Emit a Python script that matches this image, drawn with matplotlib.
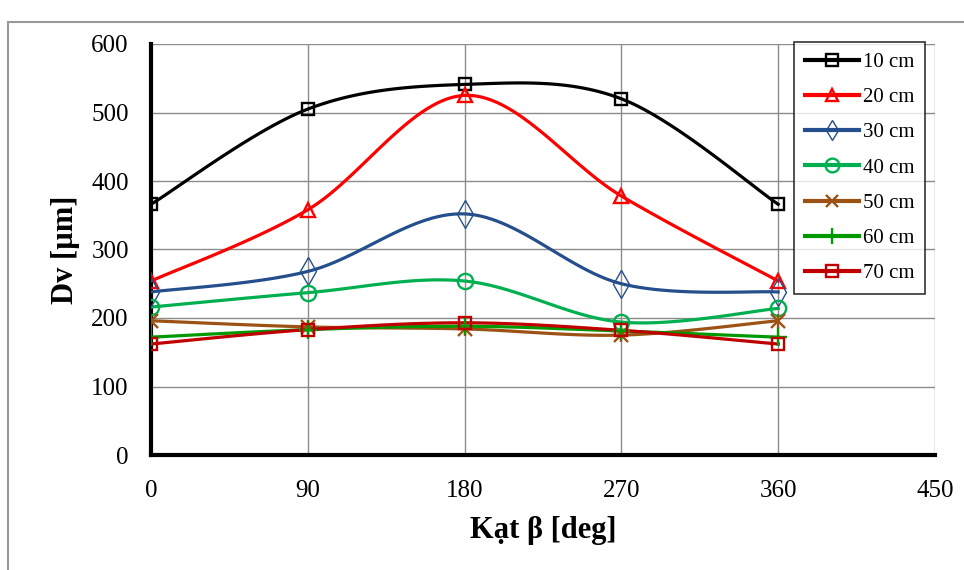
import numpy as np
import matplotlib
matplotlib.use("Agg")
import matplotlib.pyplot as plt
from matplotlib.lines import Line2D

# ---- data ----
angles = [0, 90, 180, 270, 360]
labels = ["10 cm", "20 cm", "30 cm", "40 cm", "50 cm", "60 cm", "70 cm"]
dv_10 = [366, 505, 541, 520, 366]
dv_20 = [254, 358, 525, 378, 254]
dv_30 = [238, 268, 352, 250, 238]
dv_40 = [216, 237, 254, 194, 214]
dv_50 = [196, 187, 184, 175, 196]
dv_60 = [172, 183, 188, 181, 172]
dv_70 = [162, 183, 193, 182, 162]
x_ticks = [0, 90, 180, 270, 360, 450]
y_ticks = [0, 100, 200, 300, 400, 500, 600]

series = [dv_10, dv_20, dv_30, dv_40, dv_50, dv_60, dv_70]
colors = ["#000000", "#FF0000", "#254E8C", "#00B050", "#9C5214", "#009A00", "#C00000"]
markers = ["s", "^", "d", "o", "x", "+", "s"]
msizes = [9, 10, 14, 11, 10, 13, 9]


def smooth(xs, ys, n=30):
    # excel-style smoothed line (catmull-rom through the points)
    xs = np.asarray(xs, float)
    ys = np.asarray(ys, float)
    px = np.concatenate([[xs[0]], xs, [xs[-1]]])
    py = np.concatenate([[ys[0]], ys, [ys[-1]]])
    ox, oy = [], []
    t = np.linspace(0, 1, n)
    for i in range(1, len(px) - 2):
        for arr, out in ((px, ox), (py, oy)):
            p0, p1, p2, p3 = arr[i - 1], arr[i], arr[i + 1], arr[i + 2]
            m1 = (p2 - p0) / 2
            m2 = (p3 - p1) / 2
            h00 = 2 * t**3 - 3 * t**2 + 1
            h10 = t**3 - 2 * t**2 + t
            h01 = -2 * t**3 + 3 * t**2
            h11 = t**3 - t**2
            out.extend(h00 * p1 + h10 * m1 + h01 * p2 + h11 * m2)
    return ox, oy


plt.rcParams["font.family"] = ["Liberation Serif", "DejaVu Serif"]

fig = plt.figure(figsize=(9.64, 5.70), dpi=100)
ax = fig.add_axes([151 / 964, 115 / 570, (935 - 151) / 964, (455 - 44) / 570])

handles = []
for ys, c, m, ms, lab in zip(series, colors, markers, msizes, labels):
    sx, sy = smooth(angles, ys)
    ax.plot(sx, sy, color=c, lw=2.3, zorder=3)
    mew = 1.0 if m == "d" else 1.7
    filled = m in "x+"
    ax.plot(angles, ys, ls="none", marker=m, ms=ms, mfc=c if filled else "none",
            mec=c, mew=mew, zorder=4)
    if m == "x":
        ax.plot(angles, ys, ls="none", marker="|", ms=ms, mec=c, mew=mew, zorder=4)
    lms = ms * 0.7 if m == "d" else ms * 0.9
    handles.append(Line2D([], [], color=c, lw=3, marker=m, ms=lms,
                          mfc=c if filled else "none", mec=c, mew=mew))

ax.set_xlim(0, 450)
ax.set_ylim(0, 600)
ax.set_xticks(x_ticks)
ax.set_yticks(y_ticks)
ax.tick_params(labelsize=18, length=0)
ax.tick_params(axis="x", pad=18)
ax.tick_params(axis="y", pad=16)
ax.grid(True, color="#8c8c8c", lw=1.0)
ax.set_axisbelow(True)
for s in ["top", "right"]:
    ax.spines[s].set_visible(False)
for s in ["left", "bottom"]:
    ax.spines[s].set_linewidth(3)
    ax.spines[s].set_color("black")

ax.set_xlabel("Kạt β [deg]", fontsize=22, fontweight="bold", labelpad=10)
ax.set_ylabel("Dv [µm]", fontsize=22, fontweight="bold", labelpad=8)

leg = ax.legend(handles, labels, loc="upper right", fontsize=15, frameon=True, fancybox=False,
                handlelength=2.6, labelspacing=0.75, borderpad=0.5, handletextpad=0.2,
                borderaxespad=0)
leg.set_bbox_to_anchor((925 / 964, 1 - 42 / 570), transform=fig.transFigure)
leg.get_frame().set_edgecolor("black")
leg.get_frame().set_linewidth(1.2)

# outer chart border
fig.add_artist(Line2D([8 / 964, 8 / 964], [0, 1 - 22 / 570], color="#999999", lw=1.5,
                      transform=fig.transFigure))
fig.add_artist(Line2D([8 / 964, 1], [1 - 22 / 570, 1 - 22 / 570], color="#999999", lw=1.5,
                      transform=fig.transFigure))

plt.savefig("out.png", dpi=100)
plt.close()
